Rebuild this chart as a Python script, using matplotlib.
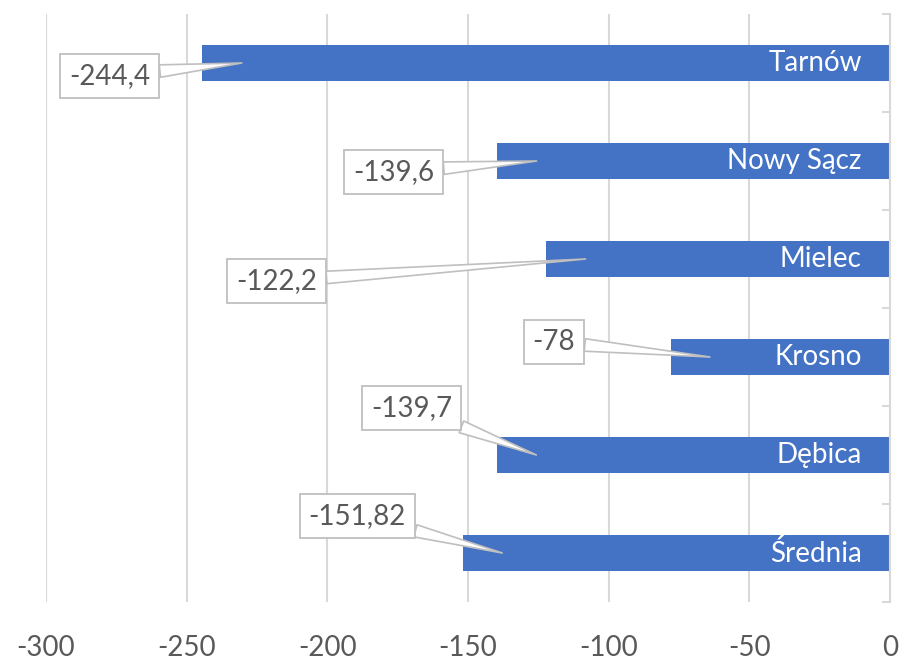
import matplotlib.pyplot as plt
from matplotlib.ticker import FixedLocator, NullFormatter

plt.rcParams['font.family'] = ['Lato', 'DejaVu Sans']

cities = ['Tarnów', 'Nowy Sącz', 'Mielec', 'Krosno', 'Dębica', 'Średnia']
values = [-244.4, -139.6, -122.2, -78, -139.7, -151.82]
xticks = [-300, -250, -200, -150, -100, -50, 0]

# where each callout box sits, relative to the point it marks (pixels)
offsets = [(-132, -13), (-143, -11), (-309, -22), (-156, 15), (-125, 47), (-145, 37)]

blue = '#4472C4'
grid = '#D9D9D9'
txt = '#595959'

fig = plt.figure(figsize=(9.05, 6.6), dpi=100)
ax = fig.add_axes([46 / 905, 58 / 660, 844 / 905, 588 / 660])

ypos = [len(cities) - 1 - i for i in range(len(cities))]
ax.barh(ypos, values, height=0.36, color=blue, zorder=2)

for y, v, name, off in zip(ypos, values, cities, offsets):
    ax.text(-10, y, name, ha='right', va='center', color='white', fontsize=20, zorder=3)
    lab = f"{v:g}".replace('.', ',')
    ax.annotate(lab, xy=(v + 14, y), xytext=off, textcoords='offset pixels',
                ha='center', va='center', fontsize=20, color=txt, zorder=4,
                bbox=dict(boxstyle='square,pad=0.32', fc='white', ec='#BFBFBF', lw=1.3),
                arrowprops=dict(arrowstyle='wedge,tail_width=0.45,shrink_factor=0.5',
                                fc='white', ec='#BFBFBF', lw=1.2,
                                shrinkA=0, shrinkB=0))

ax.set_xlim(-300, 0)
ax.set_ylim(-0.5, 5.5)
ax.set_xticks(xticks)
ax.set_xticklabels([str(t) for t in xticks])
ax.tick_params(axis='x', length=0, pad=24, labelsize=20, labelcolor=txt)

for t in xticks[:-1]:
    ax.axvline(t, color=grid, lw=1.5, zorder=0)

for s in ['top', 'bottom', 'left']:
    ax.spines[s].set_visible(False)
ax.spines['right'].set_color(grid)
ax.spines['right'].set_linewidth(1.5)

ax.yaxis.tick_right()
ax.yaxis.set_major_locator(FixedLocator([y - 0.5 for y in range(len(cities) + 1)]))
ax.yaxis.set_major_formatter(NullFormatter())
ax.tick_params(axis='y', direction='in', length=6, width=1.5, color=grid)

fig.savefig('out.png', dpi=100)
